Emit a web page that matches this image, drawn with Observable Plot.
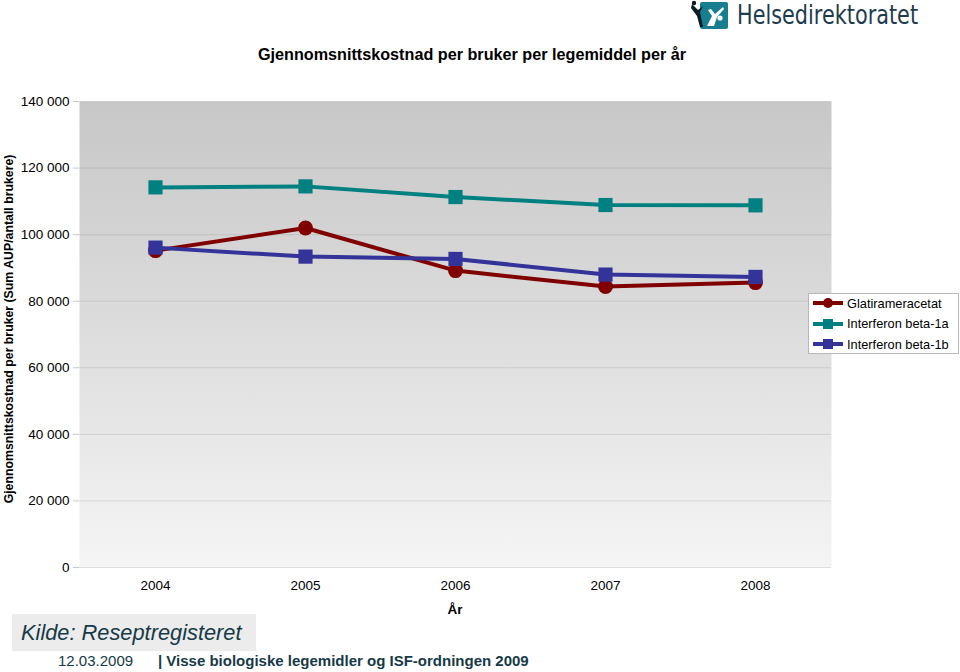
<!DOCTYPE html>
<html>
<head>
<meta charset="utf-8">
<script src="https://cdn.jsdelivr.net/npm/d3@7"></script>
<script src="https://cdn.jsdelivr.net/npm/@observablehq/plot@0.6"></script>
<style>
  html, body { margin: 0; padding: 0; background: #fff; }
  #wrap { position: relative; width: 960px; height: 672px; overflow: hidden; font-family: "Liberation Sans", Arial, Helvetica, sans-serif; color: #000; }
  #wrap > svg { position: absolute; left: 0; top: 0; }
  .abs { position: absolute; white-space: nowrap; }
  #title { left: 0; width: 944px; top: 45px; text-align: center; font-weight: bold; font-size: 16.2px; }
  #ylab { left: 9px; top: 329px; transform: translate(-50%, -50%) rotate(-90deg); font-weight: bold; font-size: 12.3px; }
  #xlab { left: 455px; top: 602px; transform: translateX(-50%); font-weight: bold; font-size: 13.5px; }
  #legend { left: 808px; top: 293px; width: 151px; height: 61px; background: #fff; border: 1px solid #b8b8b8; box-sizing: border-box; font-size: 12.8px; }
  .lrow { position: absolute; left: 0px; height: 20px; display: flex; align-items: center; }
  .lrow svg { margin-right: 2px; }
  #kilde { left: 12px; top: 614px; width: 244px; height: 37px; background: #ececec; font-style: italic; font-size: 21.8px; color: #163a47; line-height: 38px; padding-left: 9px; box-sizing: border-box; }
  #date { left: 58px; top: 652px; font-size: 15px; color: #163a47; }
  #foot { left: 158px; top: 652px; font-size: 15px; font-weight: bold; color: #163a47; }
  #logo { left: 690px; top: 0px; }
  #logotext { left: 737px; top: 0px; font-size: 26px; color: #1d3b4e; font-family: "DejaVu Sans", "Liberation Sans", sans-serif; font-weight: normal; transform: scaleX(0.8); transform-origin: left top; }
</style>
</head>
<body>
<div id="wrap"></div>
<script>
const years = ["2004", "2005", "2006", "2007", "2008"];
const seriesNames = ["Glatirameracetat", "Interferon beta-1a", "Interferon beta-1b"];
const glatiramer = [95200, 102000, 89200, 84400, 85600];
const beta1a = [114200, 114500, 111300, 108900, 108800];
const beta1b = [96100, 93400, 92700, 88000, 87300];
const seriesColors = ["#800000", "#008080", "#333399"];
const seriesSymbols = ["circle", "square", "square"];
const yTicks = [0, 20000, 40000, 60000, 80000, 100000, 120000, 140000];

const seriesValues = [glatiramer, beta1a, beta1b];
const rows = seriesValues.map((vals, i) => vals.map((v, j) => ({series: seriesNames[i], year: years[j], value: v})));

const fmt = d => d === 0 ? "0" : d3.format(",")(d).replace(/,/g, " ");

const marks = [
  Plot.frame({fill: "url(#bgGrad)", stroke: "none"}),
  Plot.gridY(yTicks, {stroke: "#9a9a9a", strokeOpacity: 0.3, strokeWidth: 1}),
  Plot.axisY(yTicks, {tickFormat: fmt, tickSize: 6, tickPadding: 4, stroke: "#c8c8c8", label: null, fontSize: 13.5}),
  Plot.axisX({tickSize: 0, tickPadding: 13, label: null, fontSize: 13.5})
];
rows.forEach((data, i) => {
  marks.push(Plot.line(data, {x: "year", y: "value", stroke: seriesColors[i], strokeWidth: 4}));
  marks.push(Plot.dot(data, {x: "year", y: "value", fill: seriesColors[i], stroke: "none",
    symbol: seriesSymbols[i], r: seriesSymbols[i] === "circle" ? 7.5 : 8}));
});

const chart = Plot.plot({
  width: 960,
  height: 672,
  marginLeft: 79,
  marginRight: 129,
  marginTop: 101,
  marginBottom: 105,
  style: {fontFamily: "'Liberation Sans', Arial, sans-serif", fontSize: "13.5px", color: "#000", background: "transparent"},
  x: {type: "band", domain: years, padding: 0, label: null},
  y: {domain: [0, 140000], label: null},
  marks
});

const defs = d3.select(chart).insert("defs", ":first-child");
const grad = defs.append("linearGradient").attr("id", "bgGrad").attr("x1", 0).attr("y1", 0).attr("x2", 0).attr("y2", 1);
grad.append("stop").attr("offset", "0%").attr("stop-color", "#c7c7c7");
grad.append("stop").attr("offset", "50%").attr("stop-color", "#dddddd");
grad.append("stop").attr("offset", "100%").attr("stop-color", "#f5f5f5");

const wrap = document.getElementById("wrap");
wrap.appendChild(chart);

function addDiv(id, text, cls = "abs") {
  const d = document.createElement("div");
  d.id = id; d.className = cls; d.textContent = text;
  wrap.appendChild(d);
  return d;
}
addDiv("title", "Gjennomsnittskostnad per bruker per legemiddel per år");
addDiv("ylab", "Gjennomsnittskostnad per bruker (Sum AUP/antall brukere)");
addDiv("xlab", "År");
addDiv("kilde", "Kilde: Reseptregisteret");
addDiv("date", "12.03.2009");
addDiv("foot", "| Visse biologiske legemidler og ISF-ordningen 2009");
addDiv("logotext", "Helsedirektoratet");

// legend
const legend = document.createElement("div");
legend.id = "legend"; legend.className = "abs";
seriesNames.forEach((name, i) => {
  const row = document.createElement("div");
  row.className = "lrow";
  row.style.top = (-1 + i * 20.5) + "px";
  const sym = seriesSymbols[i] === "circle"
    ? `<circle cx="19" cy="10" r="5" fill="${seriesColors[i]}"/>`
    : `<rect x="14" y="5" width="10" height="10" fill="${seriesColors[i]}"/>`;
  row.innerHTML = `<svg width="36" height="20"><line x1="4" x2="34" y1="10" y2="10" stroke="${seriesColors[i]}" stroke-width="4"/>${sym}</svg><span>${name}</span>`;
  legend.appendChild(row);
});
wrap.appendChild(legend);

// logo icon
const logo = document.createElement("div");
logo.id = "logo"; logo.className = "abs";
logo.innerHTML = `<svg width="42" height="32" viewBox="0 0 42 32">
  <rect x="10" y="2" width="28" height="27" rx="2" fill="#177e8f"/>
  <path d="M2 4 L8 10 L13 6 L10 12 L13 27 L10 27 L7 16 L1 8 Z" fill="#0b1c24"/>
  <circle cx="4" cy="3" r="2.2" fill="#0b1c24"/>
  <path d="M17 26 L22 16 L18 10 L21 9 L25 14 L33 7 L34 9 L27 17 L24 26 Z" fill="#fff"/>
  <circle cx="30" cy="18" r="2.6" fill="#fff"/>
</svg>`;
wrap.appendChild(logo);
</script>
</body>
</html>
